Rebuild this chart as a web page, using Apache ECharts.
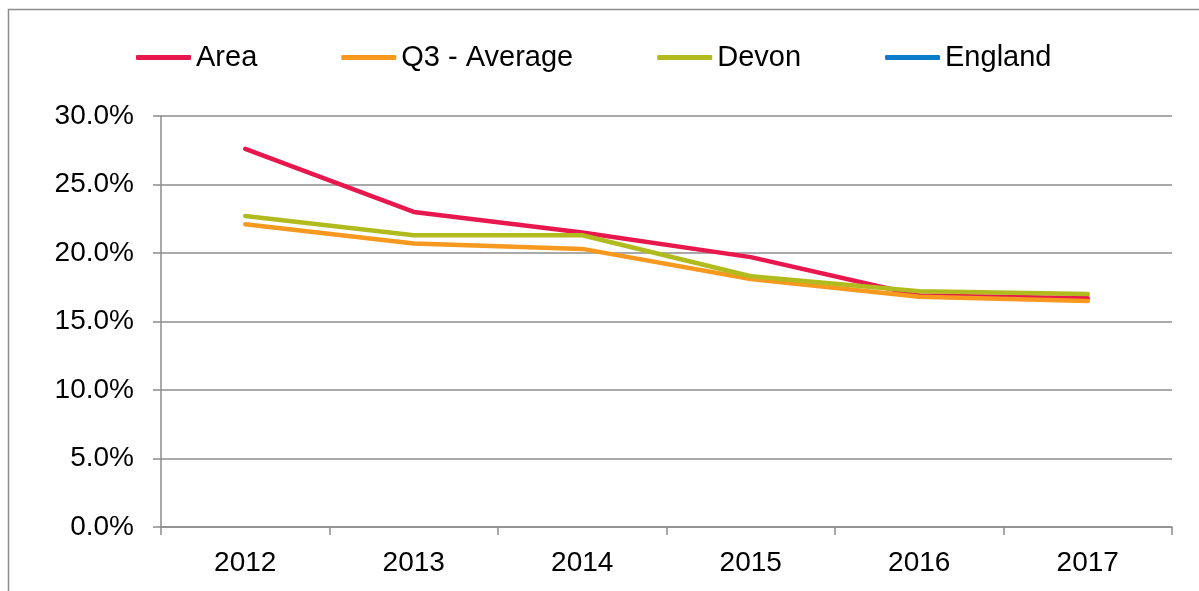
<!DOCTYPE html>
<html>
<head>
<meta charset="utf-8">
<script src="https://cdn.jsdelivr.net/npm/echarts@6/dist/echarts.min.js"></script>
<style>
  html, body { margin: 0; padding: 0; background: #fff; }
  #chart { width: 1199px; height: 591px; }
</style>
</head>
<body>
<div id="chart"></div>
<script>
// data
const years = ['2012', '2013', '2014', '2015', '2016', '2017'];
const area = [0.276, 0.230, 0.215, 0.197, 0.169, 0.167];
const q3Average = [0.221, 0.207, 0.203, 0.181, 0.168, 0.165];
const devon = [0.227, 0.213, 0.213, 0.183, 0.172, 0.170];
const england = [];

const colors = ['#e8184f', '#f7981f', '#b1bb1d', '#0a7cc9'];
const gray = '#8c8c8c';

var myChart = echarts.init(document.getElementById('chart'));

function lineSeries(name, data, color) {
  return {
    name: name,
    type: 'line',
    data: data,
    showSymbol: false,
    symbol: 'none',
    color: color,
    lineStyle: { width: 4.5, color: color, cap: 'round', join: 'round' },
    animation: false
  };
}

myChart.setOption({
  animation: false,
  textStyle: { fontFamily: 'Liberation Sans, Arial, sans-serif' },
  graphic: [{
    type: 'rect',
    shape: { x: 8.5, y: 9.5, width: 1400, height: 800 },
    style: { fill: 'none', stroke: gray, lineWidth: 1.5 },
    silent: true
  }],
  legend: {
    left: 131,
    top: 38,
    itemWidth: 55,
    itemHeight: 5,
    itemGap: 84,
    icon: 'roundRect',
    textStyle: { fontSize: 29, color: '#000', fontFamily: 'Liberation Sans, Arial, sans-serif' },
    data: ['Area', 'Q3 - Average', 'Devon', 'England']
  },
  grid: { left: 161, right: 27, top: 116, bottom: 64, containLabel: false },
  xAxis: {
    type: 'category',
    data: years,
    boundaryGap: true,
    axisLine: { lineStyle: { color: gray, width: 1.5 } },
    axisTick: { show: true, length: 8, lineStyle: { color: gray, width: 1.5 } },
    axisLabel: { color: '#000', fontSize: 28, margin: 22 },
    splitLine: { show: false }
  },
  yAxis: {
    type: 'value',
    min: 0,
    max: 0.3,
    interval: 0.05,
    axisLine: { show: true, lineStyle: { color: gray, width: 1.5 } },
    axisTick: { show: true, length: 8, lineStyle: { color: gray, width: 1.5 } },
    axisLabel: {
      color: '#000',
      fontSize: 28,
      margin: 27,
      formatter: function (v) { return (v * 100).toFixed(1) + '%'; }
    },
    splitLine: { show: true, lineStyle: { color: gray, width: 1.5 } }
  },
  series: [
    lineSeries('Area', area, colors[0]),
    lineSeries('Q3 - Average', q3Average, colors[1]),
    lineSeries('Devon', devon, colors[2]),
    lineSeries('England', england, colors[3])
  ]
});
</script>
</body>
</html>
